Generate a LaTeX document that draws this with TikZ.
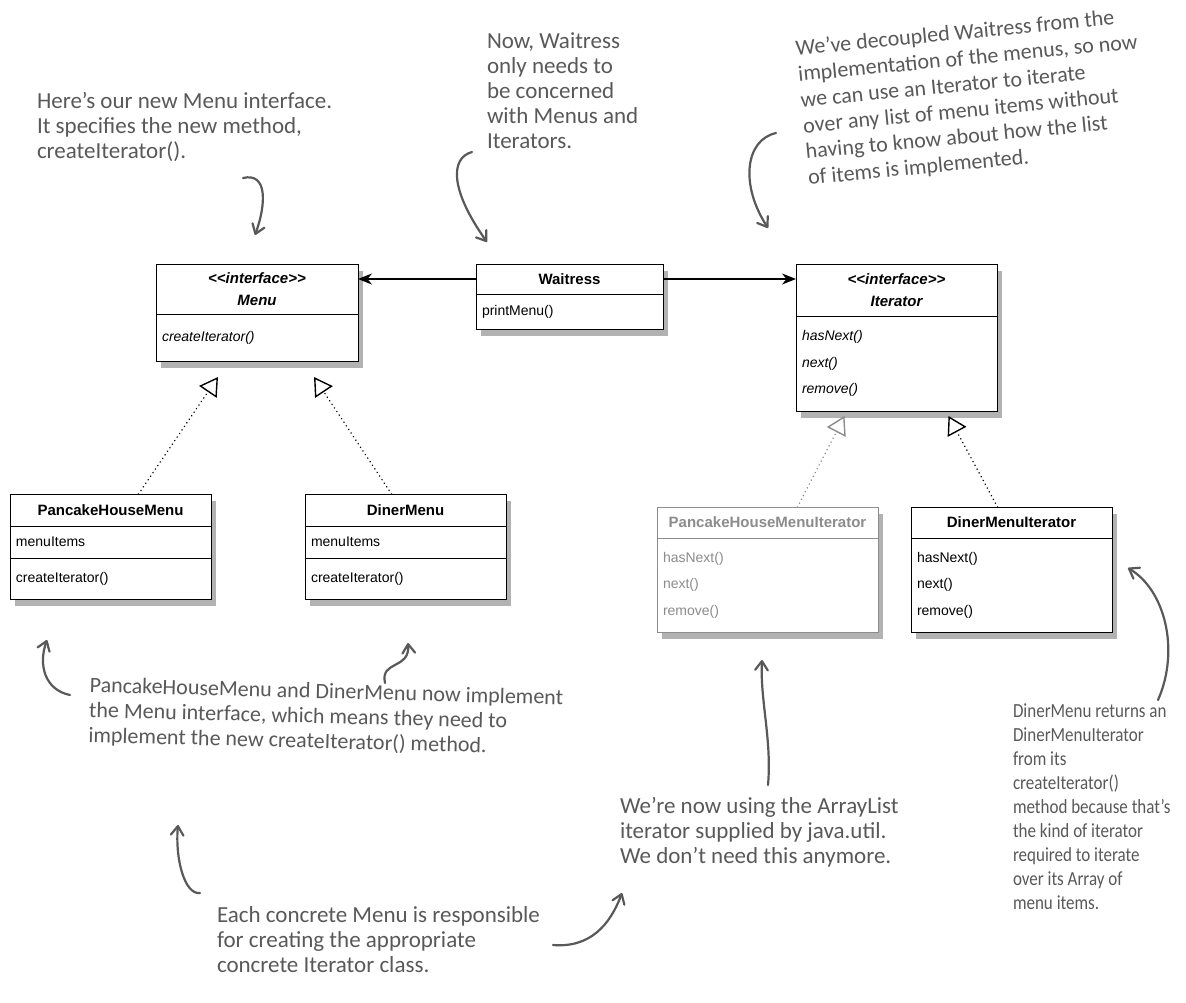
\documentclass[tikz,border=0pt]{standalone}
\usepackage{fontspec}
\setmainfont{Liberation Sans}
\newfontfamily\handfont{Carlito}
\newfontfamily\handnarrow{Carlito}[FakeStretch=0.85]
\usetikzlibrary{arrows.meta,positioning,shadows}
\definecolor{pen}{HTML}{595959}
\definecolor{faded}{HTML}{8C8C8C}
\newcommand{\iface}{<\kern0pt<interface>\kern0pt>}

\begin{document}
\begin{tikzpicture}[x=1pt,y=-1pt,line width=0.9pt,
  every node/.style={inner sep=0pt,outer sep=0pt},
  shade/.style={drop shadow={shadow xshift=5pt,shadow yshift=-7pt,fill=black,opacity=.3}},
  head/.style={draw,fill=white,shade,anchor=north west,align=center,font=\fontsize{15}{22}\selectfont\bfseries},
  part/.style={draw,fill=white,shade,align=left,font=\fontsize{14}{26.5}\selectfont},
  note/.style={font=\handfont\fontsize{23}{25}\selectfont,text=pen,align=left,anchor=north west},
  hand/.style={draw=pen,line width=2.2pt,line cap=round,-{Straight Barb[angle=70:11pt,round]}},
  realize/.style={line width=1.6pt,dash pattern=on 0.1pt off 4.2pt,line cap=round,
    -{Triangle[open,length=18pt,width=21pt,fill=white,line width=1.4pt]}},
  assoc/.style={line width=2pt,-{Stealth[length=14pt,width=11pt]}}]
  \path[fill=white,use as bounding box] (0,0) rectangle (1186,1002);

  \node[head,minimum width=202pt,minimum height=50pt,font=\fontsize{15}{22}\selectfont\bfseries\itshape] (menuhead) at (156,264) {\iface\\Menu};
  \node[part,minimum width=202pt,minimum height=47pt,text width=190pt,below=0pt of menuhead] (menuops) {\itshape createIterator()};
  \node[head,minimum width=187pt,minimum height=30pt] (waithead) at (476,264) {Waitress};
  \node[part,minimum width=187pt,minimum height=35pt,text width=175pt,below=0pt of waithead] (waitops) {printMenu()};
  \node[head,minimum width=201pt,minimum height=52pt,font=\fontsize{15}{22}\selectfont\bfseries\itshape] (iterhead) at (796,264) {\iface\\Iterator};
  \node[part,minimum width=201pt,minimum height=95pt,text width=189pt,below=0pt of iterhead,font=\fontsize{14}{26.5}\selectfont\itshape] (iterops) {hasNext()\\next()\\remove()};

  \node[head,minimum width=201pt,minimum height=32pt] (phmhead) at (10,494) {PancakeHouseMenu};
  \node[part,minimum width=201pt,minimum height=32pt,text width=189pt,below=0pt of phmhead] (phmattr) {menuItems};
  \node[part,minimum width=201pt,minimum height=41pt,text width=189pt,below=0pt of phmattr] (phmops) {createIterator()};
  \node[head,minimum width=201pt,minimum height=32pt] (dmhead) at (305,494) {DinerMenu};
  \node[part,minimum width=201pt,minimum height=32pt,text width=189pt,below=0pt of dmhead] (dmattr) {menuItems};
  \node[part,minimum width=201pt,minimum height=41pt,text width=189pt,below=0pt of dmattr] (dmops) {createIterator()};

  \node[head,draw=faded,text=faded,minimum width=221pt,minimum height=31pt] (phmihead) at (657,507) {PancakeHouseMenuIterator};
  \node[part,draw=faded,text=faded,minimum width=221pt,minimum height=94pt,text width=209pt,below=0pt of phmihead] (phmiops) {hasNext()\\next()\\remove()};
  \node[head,minimum width=201pt,minimum height=31pt] (dmihead) at (911,507) {DinerMenuIterator};
  \node[part,minimum width=201pt,minimum height=94pt,text width=189pt,below=0pt of dmihead] (dmiops) {hasNext()\\next()\\remove()};

  \draw[assoc] (waithead.west) -- (waithead.west -| menuhead.east);
  \draw[assoc] (waithead.east) -- (waithead.east -| iterhead.west);
  \coordinate (menutipA) at ([xshift=-39pt,yshift=-16pt]menuops.south);
  \coordinate (menutipB) at ([xshift=57pt,yshift=-16pt]menuops.south);
  \coordinate (itertipA) at ([xshift=-52pt,yshift=-5pt]iterops.south);
  \coordinate (itertipB) at ([xshift=52pt,yshift=-5pt]iterops.south);
  \draw[realize] ([xshift=28pt]phmhead.north) -- (menutipA);
  \draw[realize] ([xshift=-14pt]dmhead.north) -- (menutipB);
  \draw[realize,draw=faded] ([xshift=30pt]phmihead.north) -- (itertipA);
  \draw[realize] ([xshift=-14pt]dmihead.north) -- (itertipB);

  \node[note] (nmenu) at (37,92) {Here’s our new Menu interface.\\It specifies the new method,\\createIterator().};
  \node[note] (nwait) at (487,33) {Now, Waitress\\only needs to\\be concerned\\with Menus and\\Iterators.};
  \node[note,rotate=5.5,font=\handfont\fontsize{22}{26}\selectfont] (ndecouple) at (795,40) {We’ve decoupled Waitress from the\\implementation of the menus, so now\\we can use an Iterator to iterate\\over any list of menu items without\\having to know about how the list\\of items is implemented.};
  \node[note,rotate=-1.5,font=\handfont\fontsize{22}{25}\selectfont] (nimpl) at (90,677) {PancakeHouseMenu and DinerMenu now implement\\the Menu interface, which means they need to\\implement the new createIterator() method.};
  \node[note] (narray) at (620,797) {We’re now using the ArrayList\\iterator supplied by java.util.\\We don’t need this anymore.};
  \node[note,font=\handnarrow\fontsize{20}{24}\selectfont] (nreturn) at (1013,704) {DinerMenu returns an\\DinerMenuIterator\\from its\\createIterator()\\method because that’s\\the kind of iterator\\required to iterate\\over its Array of\\menu items.};
  \node[note] (nconcrete) at (217,907) {Each concrete Menu is responsible\\for creating the appropriate\\concrete Iterator class.};

  \coordinate (h1s) at (243,178);  \coordinate (h1e) at (255,235);
  \coordinate (h2s) at (472,152);  \coordinate (h2e) at (487,242);
  \coordinate (h3s) at (776,133);  \coordinate (h3e) at (768,228);
  \coordinate (h4s) at (70,695);   \coordinate (h4e) at (47,640);
  \coordinate (h5s) at (385,683);  \coordinate (h5e) at (408,643);
  \coordinate (h6s) at (768,785);  \coordinate (h6e) at (762,660);
  \coordinate (h7s) at (1158,700); \coordinate (h7e) at (1128,568);
  \coordinate (h8s) at (200,893);  \coordinate (h8e) at (178,825);
  \coordinate (h9s) at (553,945);  \coordinate (h9e) at (622,893);
  \draw[hand] (h1s) .. controls (268,172) and (266,205) .. (h1e);
  \draw[hand] (h2s) .. controls (450,158) and (450,190) .. (h2e);
  \draw[hand] (h3s) .. controls (745,140) and (740,185) .. (h3e);
  \draw[hand] (h4s) .. controls (45,690) and (38,665) .. (h4e);
  \draw[hand] (h5s) .. controls (380,660) and (410,670) .. (h5e);
  \draw[hand] (h6s) .. controls (772,740) and (760,700) .. (h6e);
  \draw[hand] (h7s) .. controls (1180,650) and (1165,590) .. (h7e);
  \draw[hand] (h8s) .. controls (185,895) and (175,860) .. (h8e);
  \draw[hand] (h9s) .. controls (590,948) and (610,925) .. (h9e);
\end{tikzpicture}
\end{document}
